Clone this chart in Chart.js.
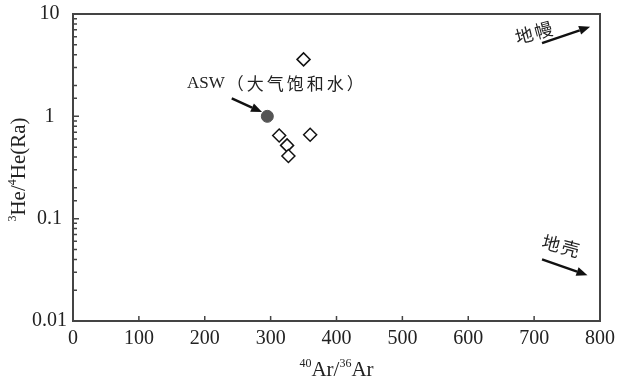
<!DOCTYPE html>
<html>
<head>
<meta charset="utf-8">
<script src="https://cdn.jsdelivr.net/npm/chart.js@4.4.0/dist/chart.umd.min.js"></script>
<style>
html, body { margin: 0; padding: 0; background: #fff; }
</style>
</head>
<body>
<canvas id="myChart" width="617" height="378"></canvas>
<script>
// samples (open diamonds)
var sampleX = [350, 313, 360, 325, 327];
var sampleY = [3.6, 0.65, 0.66, 0.52, 0.41];
// air saturated water
var aswX = [295];
var aswY = [1.0];

var xTicks = [0, 100, 200, 300, 400, 500, 600, 700, 800];
var yTicks = [0.01, 0.1, 1, 10];

// annotation arrows, in data units
var arrowFromX = [241, 712, 712];
var arrowFromY = [1.5, 5.2, 0.04];
var arrowToX = [287, 785, 781];
var arrowToY = [1.1, 7.5, 0.028];

// annotation labels, in data units
var labelText = ['ASW（大气饱和水）', '地幔', '地壳'];
var labelX = [173, 701, 742];
var labelY = [2.1, 6.6, 0.054];
var labelAngle = [0, -15, 15];

var serif = '"Liberation Serif", "Times New Roman", serif';
var cjk = '"Noto Sans CJK SC", sans-serif';
var ink = '#222';
var axisColor = '#444';

function drawArrow(ctx, x0, y0, x1, y1) {
    var a = Math.atan2(y1 - y0, x1 - x0);
    var head = 11, half = 4.5;
    var bx = x1 - head * Math.cos(a), by = y1 - head * Math.sin(a);
    ctx.beginPath();
    ctx.moveTo(x0, y0);
    ctx.lineTo(bx, by);
    ctx.lineWidth = 2.5;
    ctx.strokeStyle = '#111';
    ctx.stroke();
    ctx.beginPath();
    ctx.moveTo(x1, y1);
    ctx.lineTo(bx + half * Math.sin(a), by - half * Math.cos(a));
    ctx.lineTo(bx - half * Math.sin(a), by + half * Math.cos(a));
    ctx.closePath();
    ctx.fillStyle = '#111';
    ctx.fill();
}

// draws runs of [text, isSup] centred on 0,0
function drawSupText(ctx, parts) {
    var big = '21px ' + serif, small = '12px ' + serif;
    var total = 0;
    parts.forEach(function (p) {
        ctx.font = p[1] ? small : big;
        total += ctx.measureText(p[0]).width;
    });
    var x = -total / 2;
    ctx.textAlign = 'left';
    ctx.textBaseline = 'alphabetic';
    parts.forEach(function (p) {
        ctx.font = p[1] ? small : big;
        ctx.fillText(p[0], x, p[1] ? -2 : 7);
        x += ctx.measureText(p[0]).width;
    });
}

var framePlugin = {
    id: 'frame',
    afterDraw: function (chart) {
        var ctx = chart.ctx;
        var area = chart.chartArea;
        var xs = chart.scales.x, ys = chart.scales.y;
        ctx.save();

        // box top + right
        ctx.strokeStyle = axisColor;
        ctx.lineWidth = 2;
        ctx.beginPath();
        ctx.moveTo(area.left, area.top);
        ctx.lineTo(area.right, area.top);
        ctx.lineTo(area.right, area.bottom);
        ctx.stroke();

        // inward ticks
        ctx.lineWidth = 1.5;
        ctx.beginPath();
        ys.ticks.forEach(function (t) {
            var py = ys.getPixelForValue(t.value);
            var major = yTicks.some(function (v) { return Math.abs(v - t.value) < 1e-9; });
            var len = major ? 6 : 4;
            ctx.moveTo(area.left, py);
            ctx.lineTo(area.left + len, py);
        });
        xs.ticks.forEach(function (t) {
            var px = xs.getPixelForValue(t.value);
            ctx.moveTo(px, area.bottom);
            ctx.lineTo(px, area.bottom - 5);
        });
        ctx.stroke();

        // arrows
        for (var i = 0; i < arrowFromX.length; i++) {
            drawArrow(ctx,
                xs.getPixelForValue(arrowFromX[i]), ys.getPixelForValue(arrowFromY[i]),
                xs.getPixelForValue(arrowToX[i]), ys.getPixelForValue(arrowToY[i]));
        }

        // labels
        ctx.fillStyle = ink;
        ctx.textBaseline = 'middle';
        for (var j = 0; j < labelText.length; j++) {
            var lx = xs.getPixelForValue(labelX[j]);
            var ly = ys.getPixelForValue(labelY[j]);
            ctx.save();
            ctx.translate(lx, ly);
            ctx.rotate(labelAngle[j] * Math.PI / 180);
            if (j === 0) {
                ctx.textAlign = 'left';
                ctx.font = '17px ' + serif;
                ctx.fillText('ASW', 0, 0);
                var w = ctx.measureText('ASW').width;
                ctx.font = '17px ' + cjk;
                ctx.letterSpacing = '3px';
                ctx.fillText(labelText[j].slice(3), w + 2, 0);
            } else {
                ctx.textAlign = 'center';
                ctx.font = '18px ' + cjk;
                ctx.letterSpacing = '2px';
                ctx.fillText(labelText[j], 0, 0);
            }
            ctx.restore();
        }

        // axis titles
        ctx.fillStyle = ink;
        ctx.save();
        ctx.translate((area.left + area.right) / 2, 369);
        drawSupText(ctx, [['40', true], ['Ar/', false], ['36', true], ['Ar', false]]);
        ctx.restore();

        ctx.save();
        ctx.translate(18, (area.top + area.bottom) / 2 + 2);
        ctx.rotate(-Math.PI / 2);
        drawSupText(ctx, [['3', true], ['He/', false], ['4', true], ['He(Ra)', false]]);
        ctx.restore();

        ctx.restore();
    }
};

var ctx = document.getElementById('myChart').getContext('2d');
var myChart = new Chart(ctx, {
    type: 'scatter',
    data: {
        datasets: [{
            label: 'samples',
            data: sampleX.map(function (x, i) { return { x: x, y: sampleY[i] }; }),
            pointStyle: 'rectRot',
            pointRadius: 6.5,
            backgroundColor: '#fff',
            borderColor: '#111',
            borderWidth: 1.5
        }, {
            label: 'ASW',
            data: aswX.map(function (x, i) { return { x: x, y: aswY[i] }; }),
            pointStyle: 'circle',
            pointRadius: 6,
            backgroundColor: '#555',
            borderColor: '#555',
            borderWidth: 1
        }]
    },
    options: {
        responsive: false,
        animation: false,
        devicePixelRatio: 1,
        layout: { padding: { top: 14, right: 17, left: 0, bottom: 0 } },
        plugins: {
            legend: { display: false },
            tooltip: { enabled: false }
        },
        scales: {
            x: {
                type: 'linear',
                min: 0,
                max: 800,
                afterFit: function (scale) {
                    scale.height = 57;
                    scale.paddingLeft = 0;
                    scale.paddingRight = 0;
                },
                afterBuildTicks: function (scale) {
                    scale.ticks = xTicks.map(function (v) { return { value: v }; });
                },
                grid: { drawOnChartArea: false, drawTicks: false },
                border: { color: axisColor, width: 2 },
                ticks: {
                    padding: 6,
                    color: ink,
                    font: { family: serif, size: 20 }
                }
            },
            y: {
                type: 'logarithmic',
                min: 0.01,
                max: 10,
                afterFit: function (scale) {
                    scale.width = 73;
                    scale.paddingTop = 0;
                    scale.paddingBottom = 0;
                },
                grid: { drawOnChartArea: false, drawTicks: false },
                border: { color: axisColor, width: 2 },
                ticks: {
                    autoSkip: false,
                    padding: 6,
                    crossAlign: 'center',
                    color: ink,
                    font: { family: serif, size: 20 },
                    callback: function (val) {
                        var v = yTicks.find(function (t) { return Math.abs(t - val) < 1e-9; });
                        return v === undefined ? '' : String(v);
                    }
                }
            }
        }
    },
    plugins: [framePlugin]
});
</script>
</body>
</html>
